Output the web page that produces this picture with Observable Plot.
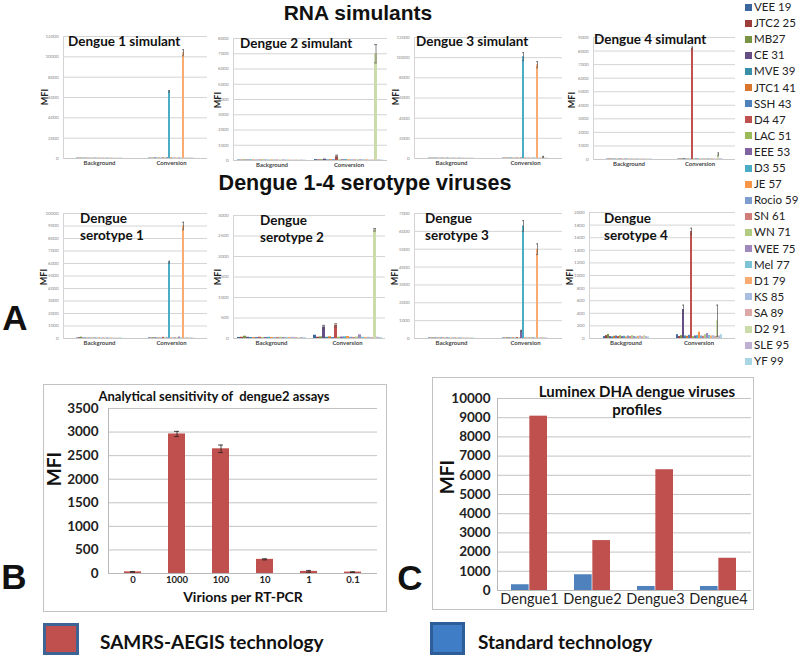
<!DOCTYPE html>
<html><head><meta charset="utf-8">
<script src="https://cdn.jsdelivr.net/npm/d3@7"></script>
<script src="https://cdn.jsdelivr.net/npm/@observablehq/plot@0.6"></script>
<style>
body{margin:0;background:#fff;}
#root{position:relative;width:800px;height:656px;overflow:hidden;font-family:Lato,"Open Sans",sans-serif;color:#111;}
.abs{position:absolute;white-space:nowrap;line-height:1;}
.c{transform:translate(-50%,-50%);}
.l{transform:translate(0,-50%);}
.rot{transform:translate(-50%,-50%) rotate(-90deg);}
svg{position:absolute;overflow:visible;}
</style></head><body><div id="root"></div>
<script>
// ---------- data ----------
const seriesNames = ["VEE 19","JTC2 25","MB27","CE 31","MVE 39","JTC1 41","SSH 43","D4 47","LAC 51","EEE 53","D3 55","JE 57","Rocio 59","SN 61","WN 71","WEE 75","Mel 77","D1 79","KS 85","SA 89","D2 91","SLE 95","YF 99"];
const seriesColors = ["#3B679E","#9C3D3A","#7A9446","#654E84","#3A8FA8","#D9762E","#4F81BD","#C0504D","#9BBB59","#8064A2","#4BACC6","#F79646","#7E9DCF","#D17E7B","#B1CB82","#9F89BD","#7CC3D6","#F9AB72","#A9BDE0","#DDA9A8","#CBDBAA","#BDB0D2","#A8D6E4"];
const groups = ["Background","Conversion"];

const d1simBg   = [40,35,50,30,45,40,35,30,45,40,35,50,30,40,35,45,40,50,35,30,40,35,45];
const d1simConv = [40,35,45,60,40,50,35,60,45,70,6600,80,40,50,45,60,40,10400,50,40,60,45,40];
const d1simErr  = [0,0,0,0,0,0,0,0,0,0,80,0,0,0,0,0,0,300,0,0,0,0,0];

const d2simBg   = [30,25,40,30,35,30,25,30,40,30,25,35,30,30,25,35,30,30,25,30,35,30,25];
const d2simConv = [60,40,50,90,40,50,45,250,40,50,60,45,40,35,40,45,40,50,30,35,7000,40,30];
const d2simErr  = [0,0,0,0,0,0,0,100,0,0,0,0,0,0,0,0,0,0,0,0,600,0,0];

const d3simBg   = [35,30,45,35,40,30,35,40,30,45,35,30,40,35,30,45,35,40,30,35,40,30,35];
const d3simConv = [40,35,45,40,50,40,35,45,40,60,10100,50,40,45,40,50,45,9300,40,45,150,40,35];
const d3simErr  = [0,0,0,0,0,0,0,0,0,0,400,0,0,0,0,0,0,300,0,0,60,0,0];

const d4simBg   = [30,35,40,30,35,30,40,35,30,35,40,30,35,30,40,35,30,35,40,30,35,30,40];
const d4simConv = [30,40,50,60,40,35,30,8200,40,50,45,40,35,40,45,50,40,60,40,35,380,50,40];
const d4simErr  = [0,0,0,0,0,0,0,100,0,0,0,0,0,0,0,0,0,0,0,0,100,0,0];

const sero1Bg   = [40,60,110,40,50,35,40,30,45,40,35,50,30,40,35,45,40,50,35,30,40,35,45];
const sero1Conv = [50,40,60,50,40,45,35,90,40,50,6100,45,40,60,40,120,45,9000,40,50,60,40,35];
const sero1Err  = [0,0,0,0,0,0,0,0,0,0,80,0,0,0,0,0,0,300,0,0,0,0,0];

const sero2Bg   = [25,30,55,30,25,20,25,30,20,25,30,25,20,25,30,25,20,25,30,25,20,25,20];
const sero2Conv = [80,30,40,280,30,40,25,320,30,35,40,50,30,25,35,90,30,25,30,25,2650,30,25];
const sero2Err  = [0,0,0,40,0,0,0,40,0,0,0,0,0,0,0,0,0,0,0,0,30,0,0];

const sero3Bg   = [30,25,35,30,25,30,35,25,30,35,30,25,30,35,25,30,35,30,25,30,35,25,30];
const sero3Conv = [30,25,40,35,30,40,25,50,30,420,6300,40,30,35,40,45,30,5000,30,40,60,30,25];
const sero3Err  = [0,0,0,0,0,0,0,0,0,40,300,0,0,0,0,0,0,300,0,0,0,0,0];

const sero4Bg   = [30,45,65,30,25,35,40,30,45,30,35,25,40,30,45,30,25,35,40,30,45,30,25];
const sero4Conv = [60,30,45,460,40,35,50,1700,30,40,45,100,40,35,60,80,50,40,45,35,280,40,60];
const sero4Err  = [0,0,0,70,0,0,0,50,0,0,0,0,0,0,0,0,0,0,0,0,250,0,0];

const bCategories = ["0","1000","100","10","1","0.1"];
const bValues = [35, 2960, 2645, 300, 45, 30];
const bErrors = [8, 55, 80, 12, 20, 6];

const cGroups = ["Dengue1","Dengue2","Dengue3","Dengue4"];
const cStandard = [300, 820, 210, 210];
const cSamrs = [9080, 2600, 6290, 1680];

// ---------- layout ----------
const root = document.getElementById("root");
function txt(text, x, y, css, cls = "c") {
  const d = document.createElement("div");
  d.className = "abs " + cls;
  d.textContent = text;
  d.style.left = x + "px"; d.style.top = y + "px";
  Object.assign(d.style, css || {});
  root.append(d);
  return d;
}
function box(x, y, w, h, css) {
  const d = document.createElement("div");
  d.className = "abs";
  Object.assign(d.style, {left: x + "px", top: y + "px", width: w + "px", height: h + "px", boxSizing: "border-box"}, css);
  root.append(d);
  return d;
}

const smallCharts = [
  {title: ["Dengue 1 simulant"], bg: d1simBg, conv: d1simConv, err: d1simErr, max: 12000, step: 2000, l: 63, r: 207, t: 36, b: 158, tx: 68, ty: 42, mx: 43.5, my: 97},
  {title: ["Dengue 2 simulant"], bg: d2simBg, conv: d2simConv, err: d2simErr, max: 8000, step: 1000, l: 233, r: 387, t: 38, b: 160, tx: 240, ty: 44, mx: 217, my: 100},
  {title: ["Dengue 3 simulant"], bg: d3simBg, conv: d3simConv, err: d3simErr, max: 12000, step: 2000, l: 413, r: 562, t: 37, b: 158, tx: 416, ty: 42, mx: 395, my: 97},
  {title: ["Dengue 4 simulant"], bg: d4simBg, conv: d4simConv, err: d4simErr, max: 9000, step: 1000, l: 592, r: 735, t: 37, b: 159, tx: 594, ty: 40, mx: 571, my: 100},
  {title: ["Dengue", "serotype 1"], bg: sero1Bg, conv: sero1Conv, err: sero1Err, max: 10000, step: 1000, l: 63, r: 207, t: 213, b: 338, tx: 80, ty: 219, mx: 43, my: 277},
  {title: ["Dengue", "serotype 2"], bg: sero2Bg, conv: sero2Conv, err: sero2Err, max: 3000, step: 500, l: 233, r: 385, t: 215, b: 338, tx: 260, ty: 221, mx: 217, my: 277},
  {title: ["Dengue", "serotype 3"], bg: sero3Bg, conv: sero3Conv, err: sero3Err, max: 7000, step: 1000, l: 413, r: 562, t: 213, b: 338, tx: 425, ty: 219, mx: 394, my: 277},
  {title: ["Dengue", "serotype 4"], bg: sero4Bg, conv: sero4Conv, err: sero4Err, max: 2000, step: 200, l: 588, r: 735, t: 212, b: 338, tx: 604, ty: 219, mx: 569, my: 277}
];

function smallChart(c) {
  const ml = 38, mr = 3, mt = 6, mb = 12;
  const data = [];
  groups.forEach((g, gi) => seriesNames.forEach((s, i) =>
    data.push({group: g, series: s, value: (gi ? c.conv : c.bg)[i], err: gi ? c.err[i] : 0})));
  const errs = data.filter(d => d.err > 0);
  const ticks = d3.range(0, c.max + 1, c.step);
  const svg = Plot.plot({
    width: c.r - c.l + ml + mr, height: c.b - c.t + mt + mb,
    marginLeft: ml, marginRight: mr, marginTop: mt, marginBottom: mb,
    style: {background: "transparent", fontFamily: "Lato, sans-serif", overflow: "visible"},
    fx: {domain: groups, padding: 0, label: null},
    x: {domain: seriesNames, paddingInner: 0.12, paddingOuter: 1.2, axis: null},
    y: {domain: [0, c.max], label: null},
    color: {domain: seriesNames, range: seriesColors},
    marks: [
      Plot.gridY(ticks.slice(1), {stroke: "#c9c9c9", strokeOpacity: 1, strokeWidth: 0.8}),
      Plot.ruleY([0], {stroke: "#c9c9c9"}),
      Plot.frame({anchor: "left", stroke: "#d4d4d4", facetAnchor: "left"}),
      Plot.axisY(ticks, {tickSize: 0, tickPadding: 5, fontSize: 4.5, fill: "#888", label: null, tickFormat: d => String(d)}),
      Plot.axisFx({anchor: "bottom", tickSize: 0, tickPadding: 2, fontSize: 6, fontWeight: "bold", fill: "#444", label: null}),
      Plot.barY(data, {fx: "group", x: "series", y: "value", fill: "series"}),
      Plot.ruleX(errs, {fx: "group", x: "series", y1: d => d.value - d.err, y2: d => d.value + d.err, stroke: "#555", strokeWidth: 0.7}),
      Plot.tickY(errs, {fx: "group", x: "series", y: d => d.value + d.err, stroke: "#555", strokeWidth: 0.7}),
      Plot.tickY(errs, {fx: "group", x: "series", y: d => d.value - d.err, stroke: "#555", strokeWidth: 0.7})
    ]
  });
  svg.style.left = (c.l - ml) + "px";
  svg.style.top = (c.t - mt) + "px";
  root.append(svg);
  c.title.forEach((line, i) => txt(line, c.tx, c.ty + i * 17, {fontSize: "13.5px", fontWeight: "bold", color: "#111"}, "l"));
  txt("MFI", c.mx, c.my, {fontSize: "9px", fontWeight: "bold", color: "#222"}, "rot");
}
smallCharts.forEach(smallChart);

// big titles
txt("RNA simulants", 358, 12, {fontFamily: "Liberation Sans, Arial, sans-serif", fontSize: "21px", fontWeight: "bold"});
txt("Dengue 1-4 serotype viruses", 365, 184, {fontFamily: "Liberation Sans, Arial, sans-serif", fontSize: "21.5px", fontWeight: "bold"});
txt("A", 15, 317, {fontFamily: "Liberation Sans, Arial, sans-serif", fontSize: "35px", fontWeight: "bold"});
txt("B", 14, 576, {fontFamily: "Liberation Sans, Arial, sans-serif", fontSize: "35px", fontWeight: "bold"});
txt("C", 410, 577, {fontFamily: "Liberation Sans, Arial, sans-serif", fontSize: "35px", fontWeight: "bold"});

// right legend
seriesNames.forEach((s, i) => {
  const y = 7 + i * 16.1;
  box(745, y - 3.5, 7, 7, {background: seriesColors[i]});
  txt(s, 754, y, {fontSize: "11.5px", color: "#222"}, "l");
});

// ---------- panel B ----------
{
  const L = 43, T = 384, W = 344, H = 228;
  box(L, T, W, H, {border: "1px solid #c3c3c3"});
  const data = bCategories.map((k, i) => ({k, v: bValues[i], e: bErrors[i]}));
  const svg = Plot.plot({
    width: W, height: H, marginLeft: 65, marginRight: 10, marginTop: 24, marginBottom: 39,
    style: {background: "transparent", fontFamily: "Lato, sans-serif", overflow: "visible"},
    x: {domain: bCategories, paddingInner: 0.62, paddingOuter: 0.31, label: null},
    y: {domain: [0, 3500], label: null},
    marks: [
      Plot.gridY(d3.range(500, 3501, 500), {stroke: "#c3c3c3", strokeOpacity: 1}),
      Plot.ruleY([0], {stroke: "#b8b8b8"}),
      Plot.frame({anchor: "left", stroke: "#b8b8b8"}),
      Plot.axisY(d3.range(0, 3501, 500), {tickSize: 0, tickPadding: 10, fontSize: 13.5, fontWeight: "bold", fill: "#222", label: null, tickFormat: d => String(d)}),
      Plot.axisX({tickSize: 0, tickPadding: 3, fontSize: 9.5, fontWeight: "bold", fill: "#222", label: null}),
      Plot.barY(data, {x: "k", y: "v", fill: "#C0504D"}),
      Plot.ruleX(data, {x: "k", y1: d => d.v - d.e, y2: d => d.v + d.e, stroke: "#222", strokeWidth: 0.8}),
      Plot.tickY(data, {x: "k", y: d => d.v + d.e, stroke: "#222", strokeWidth: 0.8, insetLeft: 6, insetRight: 6}),
      Plot.tickY(data, {x: "k", y: d => d.v - d.e, stroke: "#222", strokeWidth: 0.8, insetLeft: 6, insetRight: 6})
    ]
  });
  svg.style.left = L + "px"; svg.style.top = T + "px";
  root.append(svg);
  txt("Analytical sensitivity of  dengue2 assays", 214, 396, {fontSize: "13px", fontWeight: "bold", whiteSpace: "pre"});
  txt("Virions per RT-PCR", 243, 597, {fontSize: "14px", fontWeight: "bold"});
  txt("MFI", 53, 469, {fontSize: "19px", fontWeight: "bold"}, "rot");
}

// ---------- panel C ----------
{
  const L = 432, T = 377, W = 322, H = 233;
  box(L, T, W, H, {border: "1px solid #c3c3c3"});
  const ml = 65, mr = 3;
  const pIn = 0.426, pOut = 0.2;
  const step = (W - ml - mr) / (cGroups.length - pIn + 2 * pOut);
  const half = step * (1 - pIn) / 2;
  const data = cGroups.map((g, i) => ({g, s: cStandard[i], a: cSamrs[i]}));
  const svg = Plot.plot({
    width: W, height: H, marginLeft: ml, marginRight: mr, marginTop: 21, marginBottom: 20,
    style: {background: "transparent", fontFamily: "Lato, sans-serif", overflow: "visible"},
    x: {domain: cGroups, paddingInner: pIn, paddingOuter: pOut, label: null},
    y: {domain: [0, 10000], label: null},
    marks: [
      Plot.gridY(d3.range(1000, 10001, 1000), {stroke: "#c3c3c3", strokeOpacity: 1}),
      Plot.ruleY([0], {stroke: "#b8b8b8"}),
      Plot.frame({anchor: "left", stroke: "#b8b8b8"}),
      Plot.axisY(d3.range(0, 10001, 1000), {tickSize: 0, tickPadding: 7, fontSize: 13.5, fontWeight: "bold", fill: "#222", label: null, tickFormat: d => String(d)}),
      Plot.axisX({tickSize: 0, tickPadding: 3, fontSize: 14.5, fill: "#222", label: null}),
      Plot.barY(data, {x: "g", y: "s", fill: "#4F81BD", insetRight: half}),
      Plot.barY(data, {x: "g", y: "a", fill: "#C0504D", insetLeft: half})
    ]
  });
  svg.style.left = L + "px"; svg.style.top = T + "px";
  root.append(svg);
  txt("Luminex DHA dengue viruses", 637, 391, {fontSize: "15px", fontWeight: "bold"});
  txt("profiles", 637, 409, {fontSize: "15px", fontWeight: "bold"});
  txt("MFI", 446, 477, {fontSize: "19px", fontWeight: "bold"}, "rot");
}

// ---------- bottom legend ----------
box(43, 623, 36, 32, {background: "#C0504D", border: "3px solid #3D6495"});
txt("SAMRS-AEGIS technology", 100, 641, {fontSize: "19px", fontWeight: "bold"}, "l");
box(430, 622, 35, 33, {background: "#3F7DC6", border: "3px solid #2D5E98"});
txt("Standard technology", 478, 641, {fontSize: "19px", fontWeight: "bold"}, "l");
</script>
</body></html>
